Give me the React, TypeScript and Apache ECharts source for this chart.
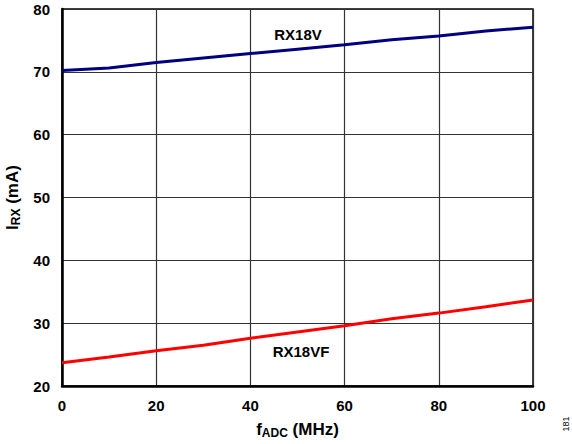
import React, { useEffect, useRef } from "react";
import * as echarts from "echarts";

const xValues = [0, 10, 20, 30, 40, 50, 60, 70, 80, 90, 100];
const rx18v = [70.2, 70.6, 71.5, 72.2, 72.9, 73.6, 74.3, 75.1, 75.7, 76.5, 77.1];
const rx18vf = [23.7, 24.6, 25.6, 26.5, 27.6, 28.6, 29.6, 30.7, 31.6, 32.6, 33.7];

const FONT = "Liberation Sans, Arial, sans-serif";

export default function App() {
  const ref = useRef<HTMLDivElement>(null);
  useEffect(() => {
    if (!ref.current) return;
    const chart = echarts.init(ref.current, null, { renderer: "svg" });
    chart.setOption({
      animation: false,
      backgroundColor: "#ffffff",
      grid: {
        left: 62,
        right: 39,
        top: 9,
        bottom: 58,
        show: true,
        borderColor: "#000",
        borderWidth: 1.5,
        containLabel: false,
        outerBoundsMode: "none",
      },
      xAxis: {
        type: "value",
        min: 0,
        max: 100,
        interval: 20,
        axisLine: { show: true, onZero: false, lineStyle: { color: "#000", width: 2.5 } },
        axisTick: { show: false },
        axisLabel: { color: "#000", fontSize: 15, fontWeight: "bold", fontFamily: FONT, margin: 12 },
        splitLine: { show: true, lineStyle: { color: "#333", width: 1.2 } },
        name: "{f|f}{sub|ADC}{n| (MHz)}",
        nameLocation: "middle",
        nameGap: 33,
        nameTextStyle: {
          rich: {
            f: { fontSize: 17, fontWeight: "bold", fontFamily: FONT, color: "#000" },
            sub: { fontSize: 12, fontWeight: "bold", fontFamily: FONT, color: "#000", padding: [8, 0, 0, 0] },
            n: { fontSize: 17, fontWeight: "bold", fontFamily: FONT, color: "#000" },
          },
        },
      },
      yAxis: {
        type: "value",
        min: 20,
        max: 80,
        interval: 10,
        axisLine: { show: true, lineStyle: { color: "#000", width: 2.5 } },
        axisTick: { show: false },
        axisLabel: { color: "#000", fontSize: 15, fontWeight: "bold", fontFamily: FONT, margin: 12 },
        splitLine: { show: true, lineStyle: { color: "#333", width: 1.2 } },
        name: "{f|I}{sub|RX}{n| (mA)}",
        nameLocation: "middle",
        nameGap: 38,
        nameRotate: 90,
        nameTextStyle: {
          rich: {
            f: { fontSize: 17, fontWeight: "bold", fontFamily: FONT, color: "#000" },
            sub: { fontSize: 12, fontWeight: "bold", fontFamily: FONT, color: "#000", padding: [8, 0, 0, 0] },
            n: { fontSize: 17, fontWeight: "bold", fontFamily: FONT, color: "#000" },
          },
        },
      },
      series: [
        {
          name: "RX18V",
          type: "line",
          data: xValues.map((x, i) => [x, rx18v[i]]),
          showSymbol: false,
          smooth: false,
          lineStyle: { color: "#000080", width: 3 },
          z: 5,
        },
        {
          name: "RX18VF",
          type: "line",
          data: xValues.map((x, i) => [x, rx18vf[i]]),
          showSymbol: false,
          smooth: false,
          lineStyle: { color: "#ff0000", width: 3 },
          z: 5,
        },
      ],
      graphic: [
        {
          type: "text",
          x: 298,
          y: 34,
          style: { text: "RX18V", fontSize: 15, fontWeight: "bold", fontFamily: FONT, fill: "#000", align: "center", verticalAlign: "middle" },
        },
        {
          type: "text",
          x: 301,
          y: 351,
          style: { text: "RX18VF", fontSize: 15, fontWeight: "bold", fontFamily: FONT, fill: "#000", align: "center", verticalAlign: "middle" },
        },
        {
          type: "text",
          x: 566,
          y: 424,
          rotation: Math.PI / 2,
          style: { text: "181", fontSize: 9, fontFamily: FONT, fill: "#000", align: "center", verticalAlign: "middle" },
        },
      ],
    });
    return () => chart.dispose();
  }, []);
  return <div ref={ref} style={{ width: 572, height: 444, position: "absolute", left: 0, top: 0 }} />;
}
